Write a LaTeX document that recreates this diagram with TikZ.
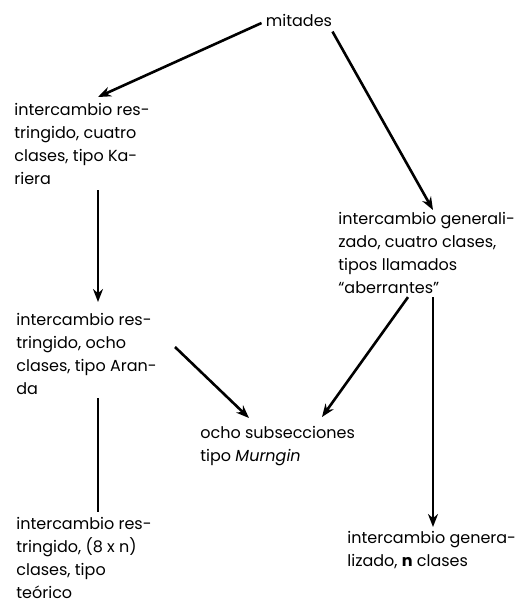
\documentclass[tikz,border=0pt]{standalone}
\usepackage{fontspec}
\setmainfont{Poppins}
\usepackage{tikz}
\usetikzlibrary{arrows.meta}

\begin{document}
\begin{tikzpicture}[
    x=0.5pt, y=-0.5pt,
    blk/.style={anchor=north west, inner sep=0pt, align=left,
                font=\fontsize{8}{11.5}\selectfont},
    arr/.style={-{Stealth[length=6.5pt, width=5pt]}, line width=1.3pt},
    lin/.style={line width=1.3pt}
  ]
  \useasboundingbox (0,0) rectangle (529,602);

  % Top
  \node[font=\fontsize{8}{11.5}\selectfont, inner sep=0pt] (mit) at (299,20) {mitades};

  % Left column
  \node[blk] (kar) at (14,103) {intercambio res-\\tringido, cuatro\\clases, tipo Ka-\\riera};
  \node[blk] (ara) at (16,313) {intercambio res-\\tringido, ocho\\clases, tipo Aran-\\da};
  \node[blk] (teo) at (16,517) {intercambio res-\\tringido, (8 x n)\\clases, tipo\\teórico};

  % Right column
  \node[blk] (gen) at (338,212) {intercambio generali-\\zado, cuatro clases,\\tipos llamados\\``aberrantes''};
  \node[blk] (ncl) at (347,531) {intercambio genera-\\lizado, \textbf{n} clases};

  % Middle
  \node[blk] (mur) at (200,426) {ocho subsecciones\\tipo \textit{Murngin}};

  % Arrows
  \draw[arr] ([shift={(-4,3)}]mit.west) -- ([shift={(84,-6)}]kar.north west);
  \draw[arr] ([shift={(0,5)}]mit.south east) -- ([shift={(95,-2)}]gen.north west);
  \draw[arr] ([shift={(84,5)}]kar.south west) -- ([shift={(82,-11)}]ara.north west);
  \draw[arr] ([shift={(159,34)}]ara.north west) -- ([shift={(49,-8)}]mur.north west);
  \draw[arr] ([shift={(70,3)}]gen.south west) -- ([shift={(122,-9)}]mur.north west);
  \draw[arr] ([shift={(95,3)}]gen.south west) -- ([shift={(86,-4)}]ncl.north west);
  \draw[lin] ([shift={(82,3)}]ara.south west) -- ([shift={(82,-5)}]teo.north west);
\end{tikzpicture}
\end{document}
